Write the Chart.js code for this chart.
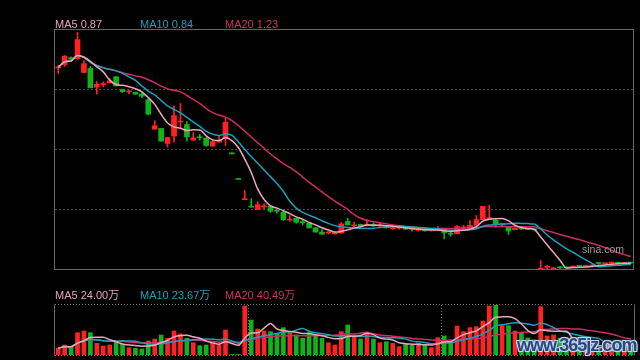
<!DOCTYPE html>
<html>
<head>
<meta charset="utf-8">
<script src="https://cdn.jsdelivr.net/npm/chart.js@4.4.0/dist/chart.umd.min.js"></script>
<style>
html, body { margin: 0; padding: 0; background: #000; }
#wrap { position: relative; width: 640px; height: 360px; overflow: hidden; background: #000;
        font-family: "Liberation Sans", Arial, "Noto Sans CJK SC", sans-serif; }
canvas { position: absolute; left: 0; }
.lbl { position: absolute; font-size: 11px; line-height: 13px; white-space: nowrap; }
.ma5 { color: #e6a2b6; }
.ma10 { color: #1f9fbb; }
.ma20 { color: #d02f68; }
#sina { position: absolute; left: 582px; top: 243px; font-size: 10.5px; line-height: 12px; color: #9a9a9a; }
#mark { position: absolute; left: 517px; top: 335px; font-size: 18px; line-height: 20px; font-weight: bold;
        letter-spacing: -1px; color: #234983;
        text-shadow: -1px -1px 0 #c9d3e6, 1px -1px 0 #c9d3e6, -1px 1px 0 #c9d3e6, 1px 1px 0 #c9d3e6, 0 0 4px #8ea2c6; }
</style>
</head>
<body>
<div id="wrap">
  <canvas id="price" width="640" height="280" style="top:0"></canvas>
  <canvas id="volume" width="640" height="80" style="top:280px"></canvas>

  <div class="lbl ma5" style="left:55px;top:18px">MA5 0.87</div>
  <div class="lbl ma10" style="left:140px;top:18px">MA10 0.84</div>
  <div class="lbl ma20" style="left:225px;top:18px">MA20 1.23</div>

  <div class="lbl ma5" style="left:55px;top:289px">MA5 24.00万</div>
  <div class="lbl ma10" style="left:140px;top:289px">MA10 23.67万</div>
  <div class="lbl ma20" style="left:225px;top:289px">MA20 40.49万</div>

  <div id="sina">sina.com</div>
  <div id="mark">www.365jz.com</div>
</div>
<script>
// daily candles (price in yuan, volume in 万)
const opens = [9.02, 9.16, 9.45, 9.41, 8.83, 9.00, 8.22, 8.33, 8.40, 8.65,
  8.12, 8.02, 8.00, 7.93, 7.70, 6.47, 6.50, 5.87, 6.18, 6.77,
  6.66, 6.01, 6.13, 6.09, 5.76, 5.93, 6.07, 5.45, 4.38, 3.53,
  3.23, 3.12, 3.23, 3.26, 3.06, 3.01, 2.68, 2.76, 2.58, 2.55,
  2.36, 2.18, 2.14, 2.11, 2.14, 2.62, 2.44, 2.50, 2.45, 2.50,
  2.43, 2.43, 2.32, 2.34, 2.36, 2.30, 2.25, 2.28, 2.23, 2.25,
  2.28, 2.10, 2.11, 2.35, 2.29, 2.46, 2.70, 2.70, 2.67, 2.48,
  2.41, 2.28, 2.32, 2.33, 2.30, 0.64, 0.71, 0.62, 0.70, 0.70,
  0.72, 0.76, 0.76, 0.77, 0.88, 0.86, 0.89, 0.89, 0.87, 0.90];
const highs = [9.12, 9.54, 9.48, 10.50, 9.33, 9.08, 8.45, 8.44, 8.58, 8.66,
  8.14, 8.10, 8.01, 7.98, 7.75, 6.82, 6.50, 6.12, 7.44, 7.54,
  6.78, 6.33, 6.25, 6.12, 6.04, 6.20, 6.94, 5.45, 4.38, 3.91,
  3.57, 3.45, 3.36, 3.26, 3.12, 3.05, 2.87, 2.76, 2.69, 2.55,
  2.36, 2.28, 2.20, 2.16, 2.58, 2.76, 2.59, 2.51, 2.70, 2.57,
  2.57, 2.46, 2.38, 2.38, 2.37, 2.35, 2.33, 2.29, 2.29, 2.41,
  2.29, 2.17, 2.46, 2.46, 2.66, 2.87, 3.25, 3.30, 2.70, 2.55,
  2.41, 2.35, 2.35, 2.34, 2.31, 0.99, 0.79, 0.70, 0.75, 0.72,
  0.76, 0.78, 0.79, 0.82, 0.90, 0.89, 0.93, 0.91, 0.90, 0.91];
const lows = [8.79, 9.08, 9.34, 9.37, 8.83, 8.19, 7.93, 8.23, 8.39, 8.27,
  8.00, 7.95, 7.91, 7.78, 7.08, 6.47, 5.97, 5.73, 5.94, 6.50,
  5.97, 6.01, 6.01, 5.75, 5.76, 5.93, 5.79, 5.44, 4.37, 3.53,
  3.22, 3.12, 3.12, 3.00, 2.97, 2.66, 2.63, 2.55, 2.48, 2.34,
  2.18, 2.09, 2.10, 2.08, 2.13, 2.48, 2.41, 2.41, 2.44, 2.41,
  2.43, 2.34, 2.29, 2.30, 2.29, 2.22, 2.22, 2.22, 2.22, 2.25,
  1.90, 2.01, 2.11, 2.32, 2.29, 2.46, 2.70, 2.70, 2.38, 2.43,
  2.08, 2.28, 2.28, 2.28, 2.26, 0.63, 0.65, 0.62, 0.67, 0.68,
  0.70, 0.72, 0.74, 0.76, 0.84, 0.85, 0.87, 0.86, 0.86, 0.87];
const closes = [9.04, 9.51, 9.38, 10.20, 9.20, 8.19, 8.34, 8.35, 8.48, 8.27,
  8.03, 8.04, 7.93, 7.84, 7.09, 6.61, 5.97, 6.12, 7.03, 6.79,
  6.15, 6.11, 6.11, 5.79, 5.95, 6.00, 6.76, 5.44, 4.37, 3.54,
  3.22, 3.32, 3.25, 3.05, 3.05, 2.70, 2.69, 2.59, 2.57, 2.36,
  2.18, 2.09, 2.15, 2.12, 2.52, 2.48, 2.45, 2.43, 2.51, 2.44,
  2.48, 2.36, 2.33, 2.35, 2.30, 2.29, 2.26, 2.23, 2.28, 2.26,
  2.16, 2.09, 2.41, 2.36, 2.46, 2.70, 3.25, 2.78, 2.49, 2.49,
  2.22, 2.34, 2.31, 2.29, 2.28, 0.65, 0.72, 0.69, 0.69, 0.69,
  0.73, 0.75, 0.77, 0.80, 0.87, 0.87, 0.90, 0.88, 0.88, 0.89];
const volumes = [16.8, 25, 20.8, 55.8, 60, 55.8, 29.3, 22.5, 25, 33.3,
  26.8, 18.3, 16.8, 15, 35, 40, 50, 41.8, 60, 52.5,
  41.8, 30.8, 23.3, 25, 30.8, 25, 62.5, 1.3, 1.3, 122.5,
  87.5, 65, 60, 58.3, 54.3, 68.3, 54.3, 50, 41.8, 55.8,
  50, 41.8, 30.8, 25, 58.3, 75, 45.8, 40, 54.3, 40,
  30.8, 33.3, 29.3, 20.8, 27.5, 25, 29.3, 25, 18.3, 43.3,
  47.5, 32.5, 72.5, 58.3, 68.3, 70.8, 85, 122.5, 125, 73.3,
  73.3, 60, 55.8, 42.5, 37.5, 120.8, 47.5, 50, 42, 38,
  28.7, 26, 22, 25, 15, 28, 22, 25, 24, 21];
const monthStarts = [30, 60];     // candle index where a new month begins
const priceGrid = [3.1, 5.6, 8.1];

const RED = '#ff2222';
const GREEN = '#10b31a';
const C_MA5 = '#eaa6ba';
const C_MA10 = '#1c9fba';
const C_MA20 = '#cf2c66';

const labels = closes.map((_, i) => i + 1);
const candleColors = closes.map((c, i) => c >= opens[i] ? RED : GREEN);

function movingAvg(arr, n) {
    return arr.map((_, i) => {
        const win = arr.slice(Math.max(0, i - n + 1), i + 1);
        return win.reduce((a, b) => a + b, 0) / win.length;
    });
}

function maLine(data, color) {
    return { type: 'line', data, borderColor: color, borderWidth: 1.5, pointRadius: 0,
             cubicInterpolationMode: 'monotone', order: 0 };
}

const baseOptions = (padding, yMin, yMax) => ({
    responsive: false,
    animation: false,
    layout: { padding },
    plugins: { legend: { display: false }, tooltip: { enabled: false } },
    scales: {
        x: { display: false, offset: true },
        y: { display: false, min: yMin, max: yMax }
    }
});

// price panel: border + dashed grid
const priceFrame = {
    id: 'priceFrame',
    beforeDatasetsDraw(chart) {
        const { ctx, chartArea: a, scales: { y } } = chart;
        ctx.save();
        ctx.strokeStyle = '#484848';
        ctx.lineWidth = 1;
        ctx.setLineDash([2, 2]);
        priceGrid.forEach(v => {
            const py = Math.round(y.getPixelForValue(v)) - 0.5;
            ctx.beginPath(); ctx.moveTo(a.left, py); ctx.lineTo(a.right, py); ctx.stroke();
        });
        ctx.restore();
    },
    afterDraw(chart) {
        const { ctx, chartArea: a } = chart;
        ctx.save();
        ctx.strokeStyle = '#666';
        ctx.lineWidth = 1;
        ctx.strokeRect(a.left - 0.5, a.top - 0.5, a.right - a.left, a.bottom - a.top);
        ctx.restore();
    }
};

// volume panel: solid sides, dotted top/bottom and month separators
const volumeFrame = {
    id: 'volumeFrame',
    beforeDatasetsDraw(chart) {
        const { ctx, chartArea: a, scales: { x } } = chart;
        ctx.save();
        ctx.strokeStyle = '#777';
        ctx.lineWidth = 1;
        ctx.setLineDash([1, 2]);
        [a.top - 0.5, a.bottom + 0.5].forEach(py => {
            ctx.beginPath(); ctx.moveTo(a.left, py); ctx.lineTo(a.right, py); ctx.stroke();
        });
        monthStarts.forEach(i => {
            const px = Math.round((x.getPixelForValue(i - 1) + x.getPixelForValue(i)) / 2) + 0.5;
            ctx.beginPath(); ctx.moveTo(px, a.top); ctx.lineTo(px, a.bottom); ctx.stroke();
        });
        ctx.setLineDash([]);
        ctx.strokeStyle = '#666';
        [a.left - 0.5, a.right + 0.5].forEach(px => {
            ctx.beginPath(); ctx.moveTo(px, a.top - 0.5); ctx.lineTo(px, a.bottom + 0.5); ctx.stroke();
        });
        ctx.restore();
    }
};

new Chart(document.getElementById('price'), {
    type: 'bar',
    data: {
        labels,
        datasets: [
            maLine(movingAvg(closes, 5), C_MA5),
            maLine(movingAvg(closes, 10), C_MA10),
            maLine(movingAvg(closes, 20), C_MA20),
            { data: opens.map((o, i) => [o, closes[i]]), backgroundColor: candleColors,
              barThickness: 5, minBarLength: 1, grouped: false, order: 1 },
            { data: lows.map((l, i) => [l, highs[i]]), backgroundColor: candleColors,
              barThickness: 1, minBarLength: 1, grouped: false, order: 2 }
        ]
    },
    options: baseOptions({ left: 55, right: 6, top: 30, bottom: 10 }, 0.6, 10.6),
    plugins: [priceFrame]
});

new Chart(document.getElementById('volume'), {
    type: 'bar',
    data: {
        labels,
        datasets: [
            maLine(movingAvg(volumes, 5), C_MA5),
            maLine(movingAvg(volumes, 10), C_MA10),
            maLine(movingAvg(volumes, 20), C_MA20),
            { data: volumes, backgroundColor: candleColors, barThickness: 4, grouped: false, order: 1 }
        ]
    },
    options: baseOptions({ left: 55, right: 6, top: 25, bottom: 5 }, 0, 125),
    plugins: [volumeFrame]
});
</script>
</body>
</html>
